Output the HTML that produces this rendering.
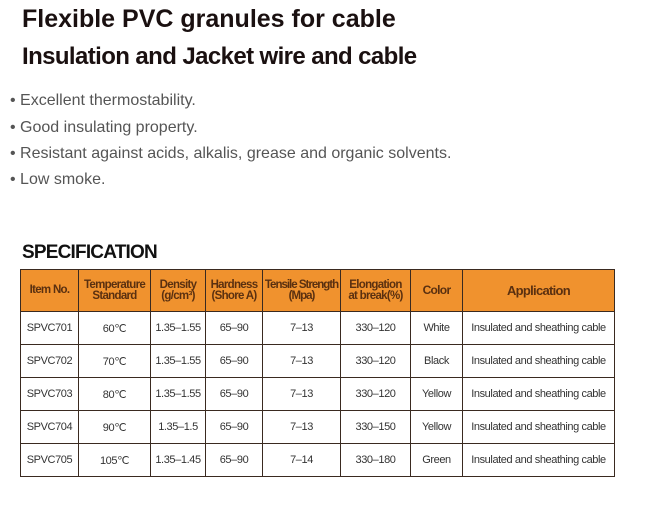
<!DOCTYPE html>
<html><head><meta charset="utf-8"><style>
body{margin:0;width:645px;height:511px;background:#fff;font-family:"Liberation Sans",sans-serif;position:relative;overflow:hidden}
.t{position:absolute;white-space:nowrap}
table{position:absolute;left:20px;top:269px;border-collapse:collapse;table-layout:fixed}
td{border:1.5px solid #3a2a20;text-align:center;font-size:11px;color:#333;padding:0;height:32px;letter-spacing:-0.4px;white-space:nowrap}
tr.h td{background:#f0922e;color:#5a3010;font-weight:bold;font-size:11.5px;line-height:11px;height:41px;letter-spacing:-0.7px}
</style></head><body>
<div class="t" style="left:22px;top:5px;font-size:25px;font-weight:bold;color:#1a1010;letter-spacing:0px">Flexible PVC granules for cable</div>
<div class="t" style="left:22px;top:43px;font-size:24px;font-weight:bold;color:#1a1010;letter-spacing:-0.6px">Insulation and Jacket wire and cable</div>
<div class="t" style="left:10px;top:92px;font-size:16px;color:#555">• Excellent thermostability.</div>
<div class="t" style="left:10px;top:119px;font-size:16px;color:#555">• Good insulating property.</div>
<div class="t" style="left:10px;top:145px;font-size:16px;color:#555">• Resistant against acids, alkalis, grease and organic solvents.</div>
<div class="t" style="left:10px;top:171px;font-size:16px;color:#555">• Low smoke.</div>
<div class="t" style="left:22px;top:242px;font-size:19px;font-weight:bold;color:#111;letter-spacing:-0.8px">SPECIFICATION</div>
<table>
<colgroup><col style="width:58px"><col style="width:72px"><col style="width:55px"><col style="width:57px"><col style="width:78px"><col style="width:70px"><col style="width:52px"><col style="width:152px"></colgroup>
<tr class="h"><td>Item No.</td><td>Temperature<br>Standard</td><td>Density<br>(g/cm³)</td><td>Hardness<br>(Shore A)</td><td style="letter-spacing:-1px">Tensile Strength<br>(Mpa)</td><td>Elongation<br>at break(%)</td><td style="font-size:12px">Color</td><td style="font-size:13px">Application</td></tr>
<tr><td>SPVC701</td><td>60℃</td><td>1.35–1.55</td><td>65–90</td><td>7–13</td><td>330–120</td><td>White</td><td>Insulated and sheathing cable</td></tr>
<tr><td>SPVC702</td><td>70℃</td><td>1.35–1.55</td><td>65–90</td><td>7–13</td><td>330–120</td><td>Black</td><td>Insulated and sheathing cable</td></tr>
<tr><td>SPVC703</td><td>80℃</td><td>1.35–1.55</td><td>65–90</td><td>7–13</td><td>330–120</td><td>Yellow</td><td>Insulated and sheathing cable</td></tr>
<tr><td>SPVC704</td><td>90℃</td><td>1.35–1.5</td><td>65–90</td><td>7–13</td><td>330–150</td><td>Yellow</td><td>Insulated and sheathing cable</td></tr>
<tr><td>SPVC705</td><td>105℃</td><td>1.35–1.45</td><td>65–90</td><td>7–14</td><td>330–180</td><td>Green</td><td>Insulated and sheathing cable</td></tr>
</table>
</body></html>
